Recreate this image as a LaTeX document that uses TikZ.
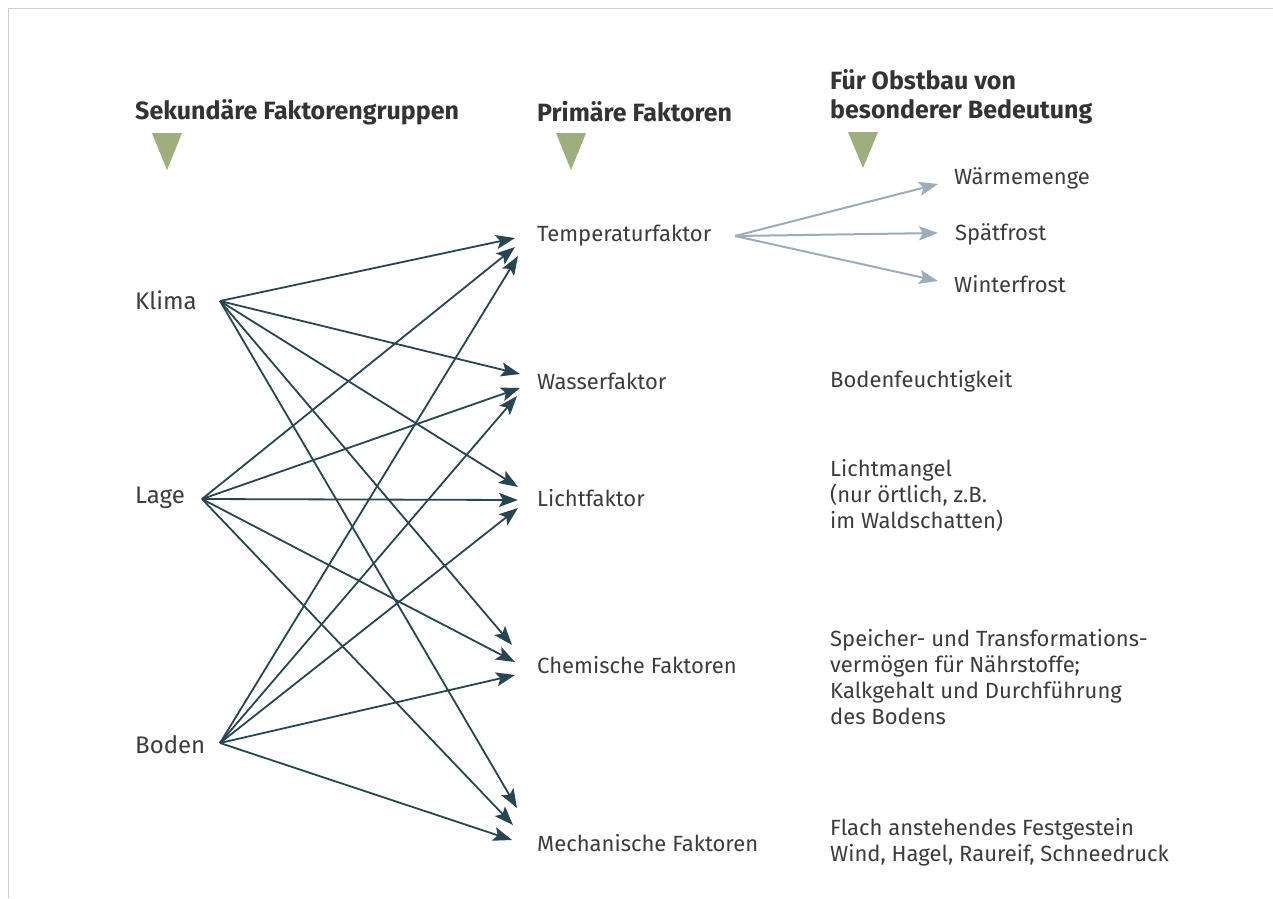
\documentclass[tikz,border=0pt]{standalone}
\usepackage{fontspec}
\setmainfont{Fira Sans}
\usetikzlibrary{arrows.meta,calc}
\definecolor{txt}{HTML}{3C3C3C}
\definecolor{hd}{HTML}{333333}
\definecolor{arrc}{HTML}{274651}
\definecolor{larrc}{HTML}{9DACB9}
\definecolor{trig}{HTML}{9CAF7C}
\definecolor{framec}{HTML}{CFCFC8}
\begin{document}
\begin{tikzpicture}[x=1pt,y=-1pt,
  lbl/.style={anchor=west, inner sep=0pt, font=\fontsize{22}{26}\selectfont, text=txt, align=left},
  src/.style={anchor=west, inner sep=0pt, font=\fontsize{24}{28}\selectfont, text=txt},
  head/.style={anchor=west, inner sep=0pt, font=\fontsize{25}{29}\selectfont\bfseries, text=hd, align=left},
  arr/.style={draw=arrc, line width=1.8pt, -{Stealth[length=19pt,width=14pt,inset=4pt]}},
  larr/.style={draw=larrc, line width=2pt, -{Stealth[length=19pt,width=14pt,inset=4pt]}},
  tri/.style={fill=trig, draw=none},
  frame/.style={draw=framec, line width=1pt}]
\useasboundingbox (0,0) rectangle (1273,898);
\fill[white] (0,0) rectangle (1273,898);
% frame
\draw[frame] (8,898) -- (8,8) -- (1273,8);

% headings
\node[head] (h1) at (135,112) {Sekundäre Faktorengruppen};
\node[head] (h2) at (537,112) {Primäre Faktoren};
\node[head] (h3) at (830,97) {Für Obstbau von\\besonderer Bedeutung};
\fill[tri] (152,133) -- (182,133) -- (167,170) -- cycle;
\fill[tri] (556,133) -- (586,133) -- (571,170) -- cycle;
\fill[tri] (848,132) -- (878,132) -- (863,168) -- cycle;

% sources
\node[src] (klima) at (135,300) {Klima};
\node[src] (lage) at (135,498) {Lage};
\node[src] (boden) at (135,745) {Boden};
\coordinate (kS) at (220,301);
\coordinate (lS) at (202,499);
\coordinate (bS) at (220,743);

% primary factors
\node[lbl] (temp) at (537,236) {Temperaturfaktor};
\node[lbl] (wass) at (537,381) {Wasserfaktor};
\node[lbl] (licht) at (537,498) {Lichtfaktor};
\node[lbl] (chem) at (537,665) {Chemische Faktoren};
\node[lbl] (mech) at (537,843) {Mechanische Faktoren};

% importance
\node[lbl] (waerme) at (954,178) {Wärmemenge};
\node[lbl] (spaet) at (955,234) {Spätfrost};
\node[lbl] (winter) at (954,284) {Winterfrost};
\node[lbl] (bodf) at (830,381) {Bodenfeuchtigkeit};
\node[lbl] (lm) at (830,496) {Lichtmangel\\(nur örtlich, z.B.\\im Waldschatten)};
\node[lbl] (sp) at (830,677) {Speicher- und Transformations-\\vermögen für Nährstoffe;\\Kalkgehalt und Durchführung\\des Bodens};
\node[lbl] (fl) at (830,842) {Flach anstehendes Festgestein\\Wind, Hagel, Raureif, Schneedruck};

% arrows to Temperaturfaktor
\draw[arr] (kS) -- ($(temp.west)+(-22,2)$);
\draw[arr] (lS) -- ($(temp.west)+(-22,11)$);
\draw[arr] (bS) -- ($(temp.west)+(-19,20)$);
% Wasserfaktor
\draw[arr] (kS) -- ($(wass.west)+(-17,-7)$);
\draw[arr] (lS) -- ($(wass.west)+(-17,7)$);
\draw[arr] (bS) -- ($(wass.west)+(-20,15)$);
% Lichtfaktor
\draw[arr] (kS) -- ($(licht.west)+(-19,-11)$);
\draw[arr] (lS) -- ($(licht.west)+(-19,2)$);
\draw[arr] (bS) -- ($(licht.west)+(-19,10)$);
% Chemische Faktoren
\draw[arr] (kS) -- ($(chem.west)+(-25,-20)$);
\draw[arr] (lS) -- ($(chem.west)+(-22,-3)$);
\draw[arr] (bS) -- ($(chem.west)+(-22,10)$);
% Mechanische Faktoren
\draw[arr] (kS) -- ($(mech.west)+(-20,-35)$);
\draw[arr] (lS) -- ($(mech.west)+(-24,-18)$);
\draw[arr] (bS) -- ($(mech.west)+(-25,-3)$);

% light arrows
\coordinate (tS) at (735,236);
\draw[larr] (tS) -- ($(waerme.west)+(-16,6)$);
\draw[larr] (tS) -- ($(spaet.west)+(-17,-1)$);
\draw[larr] (tS) -- ($(winter.west)+(-16,-3)$);
\end{tikzpicture}
\end{document}
